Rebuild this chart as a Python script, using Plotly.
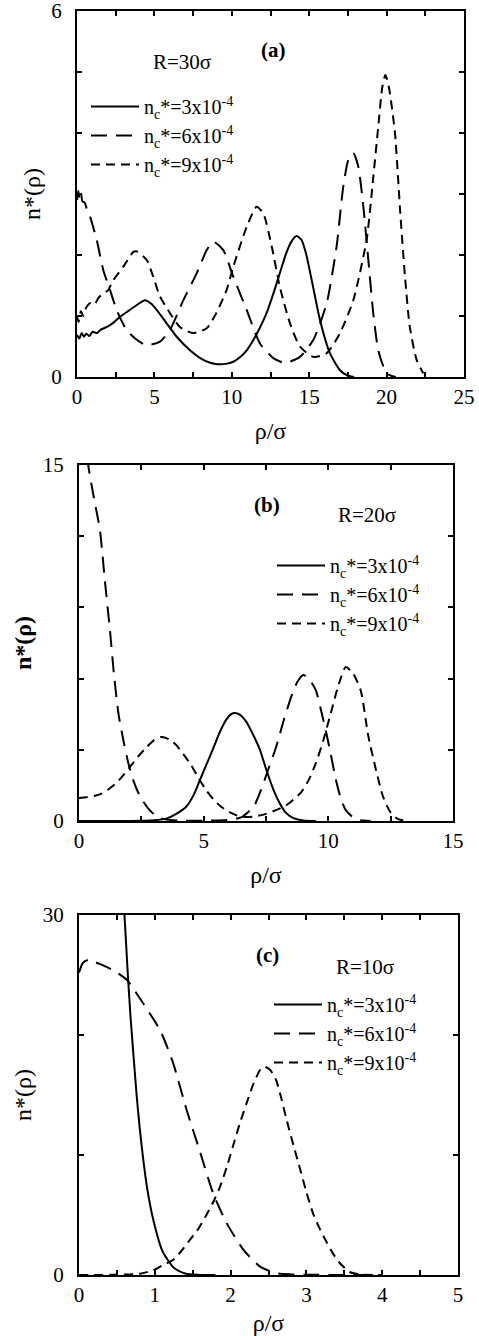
import plotly.graph_objects as go

FONT = "Liberation Serif"
W, H = 479, 1336

SERIES_NAMES = ["n<sub>c</sub>*=3x10<sup>-4</sup>",
                "n<sub>c</sub>*=6x10<sup>-4</sup>",
                "n<sub>c</sub>*=9x10<sup>-4</sup>"]

# ---------------- Panel (a) R = 30 sigma ----------------
a_x_n3 = [0, 0.15, 0.3, 0.45, 0.6, 0.8, 1.0, 1.3, 1.5, 2.0, 2.4, 2.8, 3.3, 3.86, 4.39, 4.8, 5.15, 5.79, 6.44,
          7.3, 8.16, 8.6, 9.1, 9.6, 10.1, 10.6, 11.0, 11.4, 11.8, 12.25, 12.7, 13.1, 13.5, 13.85, 14.19,
          14.5, 14.8, 15.16, 15.7, 16.34, 16.99, 17.42, 17.9]
a_y_n3 = [0.69, 0.63, 0.72, 0.66, 0.71, 0.67, 0.74, 0.72, 0.77, 0.83, 0.9, 0.99, 1.08, 1.18, 1.26, 1.2, 1.1,
          0.88, 0.66, 0.44, 0.28, 0.235, 0.21, 0.215, 0.25, 0.34, 0.45, 0.61, 0.8, 1.05, 1.38, 1.7, 2.02,
          2.22, 2.31, 2.25, 2.02, 1.59, 0.93, 0.39, 0.11, 0.03, 0.0]

a_x_n6 = [0, 0.08, 0.16, 0.25, 0.35, 0.5, 0.65, 0.84, 1.27, 1.7, 2.13, 2.56, 3.2, 3.86, 4.5, 5.36, 6.0, 6.87,
          7.73, 8.38, 8.8, 9.45, 10.1, 10.96, 11.82, 12.68, 13.44, 14.4, 15.27, 16.13, 16.77, 17.2, 17.53,
          17.85, 18.17, 18.5, 18.82, 19.14, 19.46, 19.9, 20.2, 20.6]
a_y_n6 = [2.9, 3.05, 2.92, 3.02, 2.88, 2.86, 2.74, 2.63, 2.25, 1.75, 1.43, 1.1, 0.77, 0.61, 0.52, 0.58, 0.77,
          1.26, 1.7, 2.08, 2.22, 2.08, 1.64, 1.1, 0.55, 0.31, 0.23, 0.33, 0.61, 1.21, 2.14, 3.12, 3.56, 3.67,
          3.45, 2.79, 1.92, 1.04, 0.44, 0.11, 0.03, 0.0]

a_x_n9 = [0, 0.1, 0.25, 0.4, 0.6, 0.84, 1.1, 1.4, 1.7, 2.0, 2.35, 3.0, 3.64, 3.86, 4.5, 4.93, 5.36, 6.0, 6.65,
          7.5, 8.38, 9.0, 9.67, 10.1, 10.96, 11.6, 12.04, 12.58, 13.1, 13.76, 14.4, 15.27, 16.13, 16.99,
          17.85, 18.71, 19.14, 19.46, 19.72, 19.92, 20.15, 20.54, 20.87, 21.19, 21.5, 21.94, 22.37]
a_y_n9 = [1.0, 0.9, 1.08, 1.0, 1.14, 1.21, 1.18, 1.3, 1.37, 1.42, 1.59, 1.81, 2.05, 2.06, 1.92, 1.64, 1.32,
          1.05, 0.82, 0.72, 0.8, 1.05, 1.43, 1.81, 2.46, 2.79, 2.68, 2.14, 1.48, 0.88, 0.5, 0.33, 0.39, 0.72,
          1.26, 2.25, 3.28, 4.1, 4.75, 4.95, 4.75, 4.0, 2.74, 1.64, 0.82, 0.28, 0.06]

# ---------------- Panel (b) R = 20 sigma ----------------
b_x_n3 = [0, 1, 2, 3, 3.5, 3.9, 4.3, 4.6, 4.85, 5.1, 5.4, 5.65, 5.9, 6.1, 6.26, 6.45, 6.7, 7.0, 7.26, 7.5,
          7.8, 8.05, 8.3, 8.6, 9.0, 9.5]
b_y_n3 = [0, 0, 0, 0.03, 0.1, 0.3, 0.6, 1.1, 1.73, 2.35, 3.1, 3.75, 4.26, 4.5, 4.55, 4.48, 4.2, 3.6, 2.99,
          2.2, 1.31, 0.75, 0.34, 0.12, 0.02, 0]

b_x_n6 = [0, 0.2, 0.37, 0.6, 0.84, 1.04, 1.24, 1.4, 1.58, 1.78, 1.98, 2.2, 2.45, 2.8, 3.12, 3.5, 4.0, 5.0,
          6.0, 6.5, 7.0, 7.3, 7.6, 7.9, 8.2, 8.5, 8.75, 9.0, 9.25, 9.5, 9.7, 9.9, 10.1, 10.3, 10.5, 10.7,
          11.0, 11.3, 11.7]
b_y_n6 = [19.5, 17.0, 15.0, 13.6, 12.26, 10.1, 8.05, 6.2, 4.54, 3.4, 2.43, 1.65, 1.03, 0.5, 0.18, 0.06,
          0.02, 0.01, 0.05, 0.15, 0.6, 1.31, 2.2, 3.1, 4.2, 5.2, 5.85, 6.15, 5.95, 5.5, 4.7, 3.8, 2.8, 1.75,
          0.95, 0.46, 0.15, 0.03, 0]

b_x_n9 = [0, 0.3, 0.6, 0.9, 1.2, 1.5, 1.8, 2.1, 2.4, 2.7, 3.0, 3.3, 3.6, 3.9, 4.2, 4.5, 4.8, 5.1, 5.4, 5.7,
          6.0, 6.3, 6.6, 7.0, 7.5, 8.0, 8.3, 8.6, 8.9, 9.2, 9.5, 9.8, 10.1, 10.4, 10.7, 11.0, 11.3, 11.6,
          11.9, 12.2, 12.5, 12.8, 13.2]
b_y_n9 = [0.97, 1.0, 1.05, 1.15, 1.35, 1.6, 1.95, 2.35, 2.75, 3.1, 3.4, 3.54, 3.45, 3.2, 2.8, 2.35, 1.8,
          1.3, 0.9, 0.6, 0.4, 0.25, 0.17, 0.18, 0.3, 0.5, 0.65, 0.9, 1.2, 1.7, 2.44, 3.4, 4.55, 5.7, 6.49,
          6.2, 5.5, 3.6, 2.2, 1.01, 0.35, 0.08, 0]

# ---------------- Panel (c) R = 10 sigma ----------------
c_x_n3 = [0.45, 0.52, 0.56, 0.6, 0.64, 0.68, 0.72, 0.76, 0.8, 0.85, 0.9, 0.98, 1.1, 1.25, 1.4, 1.6, 1.8]
c_y_n3 = [40, 37, 33.5, 30, 25.5, 21.5, 18.2, 15.0, 12.3, 9.5, 7.2, 4.6, 2.0, 0.6, 0.12, 0.0, 0.0]

c_x_n6 = [0, 0.05, 0.12, 0.2, 0.28, 0.45, 0.63, 0.85, 1.07, 1.24, 1.42, 1.6, 1.77, 1.95, 2.17, 2.39, 2.6,
          2.8, 3.0, 3.5, 4.0]
c_y_n6 = [25.2, 26.0, 26.25, 26.1, 25.9, 25.4, 24.6, 22.6, 20.4, 17.7, 13.75, 10.2, 6.8, 4.3, 2.1, 0.7,
          0.15, 0.05, 0.02, 0, 0]

c_x_n9 = [0, 0.5, 0.8, 0.98, 1.1, 1.24, 1.35, 1.46, 1.58, 1.69, 1.78, 1.86, 1.95, 2.03, 2.12, 2.21, 2.3,
          2.39, 2.45, 2.52, 2.6, 2.67, 2.74, 2.83, 2.92, 3.0, 3.09, 3.18, 3.27, 3.35, 3.44, 3.57, 3.7, 4.0]
c_y_n9 = [0, 0.02, 0.1, 0.4, 0.8, 1.25, 2.0, 2.9, 3.9, 5.1, 6.2, 7.35, 9.0, 10.7, 12.6, 14.3, 15.9, 17.1,
          17.35, 17.1, 16.25, 14.7, 12.9, 10.8, 8.75, 6.9, 5.1, 3.8, 2.7, 1.8, 1.0, 0.25, 0.05, 0]

# tick definitions
a_xticks = [0, 2.5, 5, 7.5, 10, 12.5, 15, 17.5, 20, 22.5, 25]
a_xlabels = ["0", "", "5", "", "10", "", "15", "", "20", "", "25"]
a_yticks = [0, 1, 2, 3, 4, 5, 6]
a_ylabels = ["0", "", "", "", "", "", "6"]
b_xticks = [0, 2.5, 5, 7.5, 10, 12.5, 15]
b_xlabels = ["0", "", "5", "", "10", "", "15"]
b_yticks = [0, 3, 6, 9, 12, 15]
b_ylabels = ["0", "", "", "", "", "15"]
c_xticks = [0, 0.5, 1, 1.5, 2, 2.5, 3, 3.5, 4, 4.5, 5]
c_xlabels = ["0", "", "1", "", "2", "", "3", "", "4", "", "5"]
c_yticks = [0, 10, 20, 30]
c_ylabels = ["0", "", "", "30"]

DASHES = ["solid", "16px,9px", "9px,6px"]

fig = go.Figure()

panels = [
    ("x", "y", "legend", [(a_x_n3, a_y_n3), (a_x_n6, a_y_n6), (a_x_n9, a_y_n9)]),
    ("x2", "y2", "legend2", [(b_x_n3, b_y_n3), (b_x_n6, b_y_n6), (b_x_n9, b_y_n9)]),
    ("x3", "y3", "legend3", [(c_x_n3, c_y_n3), (c_x_n6, c_y_n6), (c_x_n9, c_y_n9)]),
]
for xa, ya, lg, series in panels:
    for (xs, ys), name, dash in zip(series, SERIES_NAMES, DASHES):
        fig.add_trace(go.Scatter(x=xs, y=ys, mode="lines", name=name, xaxis=xa, yaxis=ya, legend=lg,
                                 line=dict(color="black", width=2, dash=dash, shape="spline", smoothing=0.6)))


def px_x(p):
    return p / W


def px_y(p):
    return 1 - p / H


def axis_common(rng, tv, tt, title, standoff, labelstandoff, bold=False):
    t = f"<b>{title}</b>" if bold else title
    return dict(range=rng, tickvals=tv, ticktext=tt, ticks="inside", ticklen=5, tickwidth=1.5,
                tickcolor="black", showline=True, linewidth=2, linecolor="black", mirror="ticks",
                showgrid=False, zeroline=False, automargin=False, ticklabeloverflow="allow",
                ticklabelstandoff=labelstandoff,
                tickfont=dict(family=FONT, size=21, color="black"),
                title=dict(text=t, font=dict(family=FONT, size=24, color="black"), standoff=standoff))


layout = dict(width=W, height=H, margin=dict(l=0, r=0, t=0, b=0), template="none",
              plot_bgcolor="white", paper_bgcolor="white", showlegend=True)

doms = [
    ((77, 464), (11, 377), ((0, 25), a_xticks, a_xlabels), ((0, 6), a_yticks, a_ylabels), False),
    ((79, 453), (465, 821), ((0, 15), b_xticks, b_xlabels), ((0, 15), b_yticks, b_ylabels), True),
    ((79, 458), (915, 1275), ((0, 5), c_xticks, c_xlabels), ((0, 30), c_yticks, c_ylabels), False),
]
for i, (xd, yd, xinfo, yinfo, bold) in enumerate(doms):
    sfx = "" if i == 0 else str(i + 1)
    xa = axis_common(xinfo[0], xinfo[1], xinfo[2], "ρ/σ", 14, 0)
    xa.update(domain=[px_x(xd[0]), px_x(xd[1])], anchor="y" + sfx)
    ya = axis_common(yinfo[0], yinfo[1], yinfo[2], "n*(ρ)", 4, 9, bold=bold)
    ya.update(domain=[px_y(yd[1]), px_y(yd[0])], anchor="x" + sfx)
    layout["xaxis" + sfx] = xa
    layout["yaxis" + sfx] = ya

leg_font = dict(family=FONT, size=20, color="black")
legpos = [(86, 87), (272, 546), (269, 985)]
for i, (lx, ly) in enumerate(legpos):
    key = "legend" if i == 0 else f"legend{i + 1}"
    layout[key] = dict(x=px_x(lx), y=px_y(ly), xanchor="left", yanchor="top", bgcolor="rgba(0,0,0,0)",
                       font=leg_font, itemwidth=48, tracegroupgap=0, borderwidth=0)

ann = []
texts = [("R=30σ", 182, 62, False), ("(a)", 273, 50, True),
         ("R=20σ", 367, 515, False), ("(b)", 267, 505, True),
         ("R=10σ", 365, 967, False), ("(c)", 267, 955, True)]
for t, x, y, b in texts:
    ann.append(dict(text=f"<b>{t}</b>" if b else t, x=px_x(x), y=px_y(y), xref="paper", yref="paper",
                    showarrow=False, xanchor="center", yanchor="middle",
                    font=dict(family=FONT, size=21, color="black")))
layout["annotations"] = ann

fig.update_layout(**layout)
fig.write_html("out.html", config={"displayModeBar": False},
               post_script="document.body.style.margin='0px';document.body.style.overflow='hidden';")
